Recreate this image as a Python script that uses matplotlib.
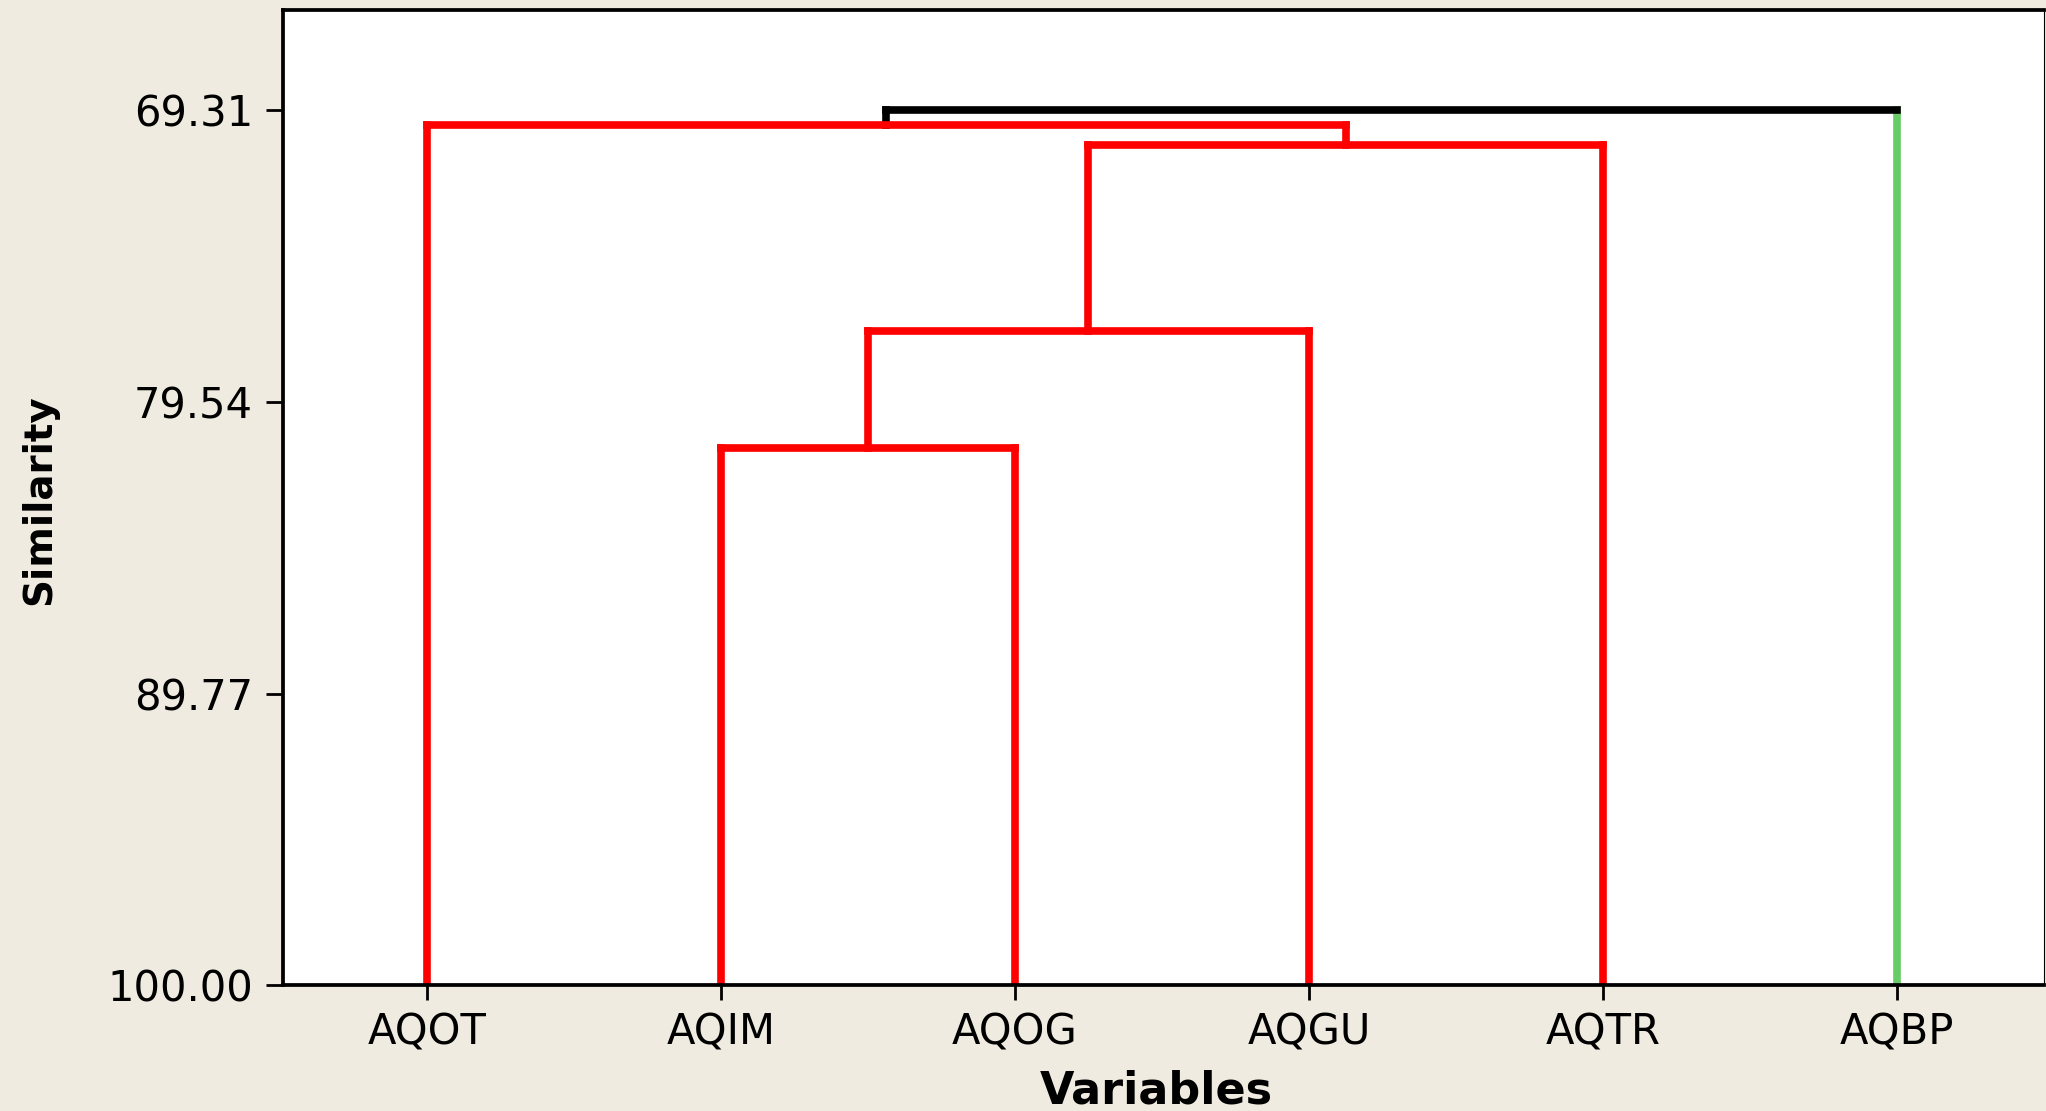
import numpy as np
import matplotlib.pyplot as plt

variables = ["AQOT", "AQIM", "AQOG", "AQGU", "AQTR", "AQBP"]
leaf_colors = ["#FF0000", "#FF0000", "#FF0000", "#FF0000", "#FF0000", "#66CC66"]

# merges, scipy style: leaves are 0-5, new clusters get 6, 7, 8 ...
merge_a = [1, 6, 7, 0, 9]
merge_b = [2, 3, 4, 8, 5]
similarity = [81.17, 77.06, 70.56, 69.85, 69.31]
merge_colors = ["#FF0000", "#FF0000", "#FF0000", "#FF0000", "#000000"]

yticks = [69.31, 79.54, 89.77, 100.00]

bg = "#EFEBE0"

# node positions / heights
pos = list(np.arange(1, len(variables) + 1, dtype=float))
height = [100.0] * len(variables)
parent = {}
for k, (a, b, s) in enumerate(zip(merge_a, merge_b, similarity)):
    pos.append((pos[a] + pos[b]) / 2)
    height.append(s)
    parent[a] = k
    parent[b] = k

# colour of the line going up from each node
up_color = list(leaf_colors)
for n in range(len(variables), len(pos)):
    up_color.append(merge_colors[parent[n]] if n in parent else "#000000")

fig = plt.figure(figsize=(20.46, 11.11), dpi=100, facecolor=bg)
ax = fig.add_axes([0.1383, 0.113, 0.8607, 0.878])
ax.set_facecolor("white")

lw = 5.5
for k, (a, b, s) in enumerate(zip(merge_a, merge_b, similarity)):
    for n in (a, b):
        ax.plot([pos[n], pos[n]], [height[n], s], color=up_color[n], lw=lw,
                solid_capstyle="projecting", zorder=2)
    ax.plot([pos[a], pos[b]], [s, s], color=merge_colors[k], lw=lw,
            solid_capstyle="projecting", zorder=3)

ax.set_xlim(0.51, 6.5)
ax.set_ylim(100, 65.82)

ax.set_xticks(np.arange(1, len(variables) + 1))
ax.set_xticklabels(variables, fontsize=30)
ax.set_yticks(yticks)
ax.set_yticklabels([f"{v:.2f}" for v in yticks], fontsize=30)

ax.tick_params(axis="x", length=10.5, width=2, pad=8.5, color="black")
ax.tick_params(axis="y", length=12, width=2, pad=9.5, color="black")

for side in ["left", "top", "bottom"]:
    ax.spines[side].set_linewidth(2.7)
ax.spines["right"].set_linewidth(0.8)

ax.set_xlabel("Variables", fontsize=32, fontweight="bold")
ax.xaxis.set_label_coords(0.496, -0.0857)
ax.set_ylabel("Similarity", fontsize=28, fontweight="bold", va="center")
ax.yaxis.set_label_coords(-0.1385, 0.4977)

fig.savefig("out.png", dpi=100, facecolor=bg)
